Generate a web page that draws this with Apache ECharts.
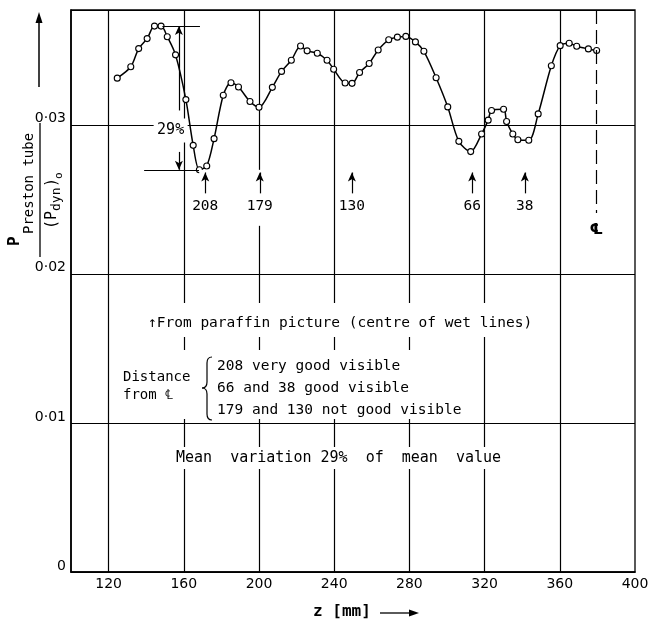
<!DOCTYPE html>
<html>
<head>
<meta charset="utf-8">
<script src="https://cdn.jsdelivr.net/npm/echarts@6/dist/echarts.min.js"></script>
<style>html,body{margin:0;padding:0;background:#fff;}#c{width:653px;height:623px;}</style>
</head>
<body>
<div id="c"></div>
<script>
// ---- data ----
const zValues = [124.6,131.8,136.0,140.5,144.4,147.9,151.2,155.6,161.1,165.0,168.3,172.2,176.1,181.0,185.1,189.1,195.2,200.0,207.1,212.0,217.2,222.1,225.6,231.0,236.2,239.7,245.8,249.5,253.5,258.6,263.4,269.0,273.6,278.1,283.2,287.7,294.2,300.4,306.3,312.6,318.4,321.9,323.7,330.1,331.7,335.0,337.7,343.5,348.5,355.5,360.2,365.0,369.0,375.2,379.6];
const pValues = [0.03313,0.03389,0.03511,0.03578,0.03662,0.03662,0.03591,0.03469,0.03169,0.02862,0.02698,0.02724,0.02907,0.03198,0.03282,0.03253,0.03156,0.03118,0.03251,0.03358,0.03433,0.03529,0.03496,0.03480,0.03433,0.03373,0.03280,0.03278,0.03351,0.03411,0.03502,0.03570,0.03588,0.03593,0.03556,0.03493,0.03316,0.03120,0.02889,0.02820,0.02938,0.03031,0.03096,0.03104,0.03022,0.02938,0.02900,0.02896,0.03073,0.03396,0.03531,0.03547,0.03527,0.03509,0.03498];
const xTickLabels = [120,160,200,240,280,320,360,400];
const xGridLines = [120,160,200,240,280,320,360];
const yTickLabels = ['0','0·01','0·02','0·03'];
const wetLineDistances = [208,179,130,66,38];
const centreLineZ = 379.4;
const maxP = 0.03662, minP = 0.02698;

const MONO = '"DejaVu Sans Mono", monospace';
const SANS = '"DejaVu Sans", sans-serif';
const chart = echarts.init(document.getElementById('c'), null, {renderer:'canvas'});

const arrowTail = 0.0254, arrowTip = 0.0268, labelY = 0.02455;
const annotLines = [];
const annotPoints = [];
wetLineDistances.forEach(d => {
  const z = centreLineZ - d;
  annotLines.push([{coord:[z, arrowTail], symbol:'none'}, {coord:[z, arrowTip], symbol:'arrow'}]);
  annotPoints.push({coord:[z, 0.0251], symbol:'rect', symbolSize:[12, 56], itemStyle:{color:'#fff'}, label:{show:false}});
  annotPoints.push({coord:[z, labelY], symbol:'circle', symbolSize:0, label:{show:true, formatter:String(d), position:'inside', color:'#000', fontFamily:MONO, fontSize:14.5}});
});
// 29% dimension
annotLines.push([{coord:[148.6, maxP], symbol:'none'}, {coord:[168.6, maxP], symbol:'none'}]);
annotLines.push([{coord:[138.9, minP], symbol:'none'}, {coord:[168.1, minP], symbol:'none'}]);
annotLines.push([{coord:[157.4, 0.03096], symbol:'none'}, {coord:[157.4, maxP], symbol:'arrow'}]);
annotLines.push([{coord:[157.4, 0.02818], symbol:'none'}, {coord:[157.4, minP], symbol:'arrow'}]);
annotPoints.push({coord:[153, 0.02962], symbol:'rect', symbolSize:[34, 24], itemStyle:{color:'#fff'},
  label:{show:true, formatter:'29%', position:'inside', color:'#000', fontFamily:MONO, fontSize:15}});
// centre line
annotLines.push([{coord:[centreLineZ, 0.0377], symbol:'none', lineStyle:{type:[14,6], width:1.2, color:'#000'}},
                 {coord:[centreLineZ, 0.02408], symbol:'none', lineStyle:{type:[14,6], width:1.2, color:'#000'}}]);
annotPoints.push({coord:[centreLineZ, 0.02294], symbol:'circle', symbolSize:0,
  label:{show:true, formatter:'℄', position:'inside', color:'#000', fontFamily:SANS, fontSize:15, fontWeight:'bold'}});

const T = (x, y, text, font) => ({type:'text', z:100, x:x, y:y, style:{text:text, font:font, fill:'#000', align:'left', verticalAlign:'middle'}});
const brace = [
  {type:'bezierCurve', z:100, shape:{x1:212, y1:357, cpx1:207, cpy1:357, x2:207, y2:363}, style:{stroke:'#000', fill:null, lineWidth:1.2}},
  {type:'line', z:100, shape:{x1:207, y1:363, x2:207, y2:382}, style:{stroke:'#000', lineWidth:1.2}},
  {type:'bezierCurve', z:100, shape:{x1:207, y1:382, cpx1:207, cpy1:388, x2:202, y2:388}, style:{stroke:'#000', fill:null, lineWidth:1.2}},
  {type:'bezierCurve', z:100, shape:{x1:202, y1:388, cpx1:207, cpy1:388, x2:207, y2:394}, style:{stroke:'#000', fill:null, lineWidth:1.2}},
  {type:'line', z:100, shape:{x1:207, y1:394, x2:207, y2:414}, style:{stroke:'#000', lineWidth:1.2}},
  {type:'bezierCurve', z:100, shape:{x1:207, y1:414, cpx1:207, cpy1:420, x2:212, y2:420}, style:{stroke:'#000', fill:null, lineWidth:1.2}}
];

const option = {
  animation:false,
  backgroundColor:'#fff',
  grid:{left:71, right:18, top:10, bottom:51, show:true, borderColor:'#000', borderWidth:1.3, containLabel:false},
  xAxis:{type:'value', min:100, max:400, interval:20,
    axisLine:{show:true, lineStyle:{color:'#000', width:1.6}}, axisTick:{show:false}, splitLine:{show:false},
    axisLabel:{color:'#000', fontFamily:SANS, fontSize:14, margin:5,
      formatter:v => xTickLabels.indexOf(Math.round(v)) >= 0 ? String(Math.round(v)) : ''}},
  yAxis:{type:'value', min:0, max:0.0377, interval:0.01,
    axisLine:{show:true, lineStyle:{color:'#000', width:1.6}}, axisTick:{show:false},
    splitLine:{show:true, lineStyle:{color:'#000', width:1.2}},
    axisLabel:{color:'#000', fontFamily:SANS, fontSize:14, margin:5, verticalAlign:'bottom', lineHeight:12, showMaxLabel:false,
      formatter:v => { const i = Math.round(v*100); return (Math.abs(v - i/100) < 1e-6 && i < yTickLabels.length) ? yTickLabels[i] : ''; }}},
  series:[
    {type:'line', data:[], silent:true, z:1,
     markLine:{silent:true, z:1, symbol:['none','none'], label:{show:false},
       lineStyle:{color:'#000', width:1.2, type:'solid'}, data:xGridLines.map(v=>({xAxis:v}))}},
    {type:'line', data:zValues.map((z,i)=>[z,pValues[i]]), smooth:0.3, z:3,
     symbol:'circle', symbolSize:6, showAllSymbol:true,
     lineStyle:{color:'#000', width:1.5},
     itemStyle:{color:'#fff', borderColor:'#000', borderWidth:1.1}},
    {type:'line', data:[], silent:true, z:4,
     markPoint:{silent:true, z:5, data:annotPoints},
     markLine:{silent:true, z:6, symbolSize:[6,9], label:{show:false},
       lineStyle:{color:'#000', width:1.2, type:'solid'}, data:annotLines}}
  ],
  graphic:[
    {type:'group', x:40, y:190, rotation:Math.PI/2, z:100, children:[
      {type:'line', shape:{x1:-67, y1:0, x2:67, y2:0}, style:{stroke:'#000', lineWidth:1.3}},
      {type:'text', x:-56, y:-25, style:{text:'P', font:'bold 16px '+MONO, fill:'#000', align:'left', verticalAlign:'middle'}},
      {type:'text', x:-44, y:-11, style:{text:'Preston tube', font:'14px '+MONO, fill:'#000', align:'left', verticalAlign:'middle'}},
      {type:'text', x:-39, y:12, style:{text:'(P', font:'15px '+MONO, fill:'#000', align:'left', verticalAlign:'middle'}},
      {type:'text', x:-21, y:17, style:{text:'dyn', font:'13px '+MONO, fill:'#000', align:'left', verticalAlign:'middle'}},
      {type:'text', x:3, y:12, style:{text:')', font:'15px '+MONO, fill:'#000', align:'left', verticalAlign:'middle'}},
      {type:'text', x:11, y:19, style:{text:'o', font:'11px '+MONO, fill:'#000', align:'left', verticalAlign:'middle'}}
    ]},
    {type:'line', z:100, shape:{x1:39, y1:87, x2:39, y2:20}, style:{stroke:'#000', lineWidth:1.5}},
    {type:'polygon', z:100, shape:{points:[[39,12],[35.5,23],[42.5,23]]}, style:{fill:'#000'}},
    {type:'rect', z:99, shape:{x:144, y:303, width:396, height:34}, style:{fill:'#fff'}},
    {type:'rect', z:99, shape:{x:118, y:350, width:344, height:69}, style:{fill:'#fff'}},
    {type:'rect', z:99, shape:{x:170, y:447, width:336, height:22}, style:{fill:'#fff'}},
    T(148, 323, '↑From paraffin picture (centre of wet lines)', '14.5px '+MONO),
    T(123, 377, 'Distance', '14px '+MONO),
    T(123, 395, 'from ℄', '14px '+MONO),
    ...brace,
    T(217, 366, '208 very good visible', '14.5px '+MONO),
    T(217, 388, '66 and 38 good visible', '14.5px '+MONO),
    T(217, 410, '179 and 130 not good visible', '14.5px '+MONO),
    T(176, 458, 'Mean  variation 29%  of  mean  value', '15px '+MONO),
    T(313, 612, 'z [mm]', 'bold 16px '+MONO),
    {type:'line', z:100, shape:{x1:380, y1:613, x2:412, y2:613}, style:{stroke:'#000', lineWidth:1.3}},
    {type:'polygon', z:100, shape:{points:[[419,613],[409,609.5],[409,616.5]]}, style:{fill:'#000'}}
  ]
};
chart.setOption(option);
</script>
</body>
</html>
